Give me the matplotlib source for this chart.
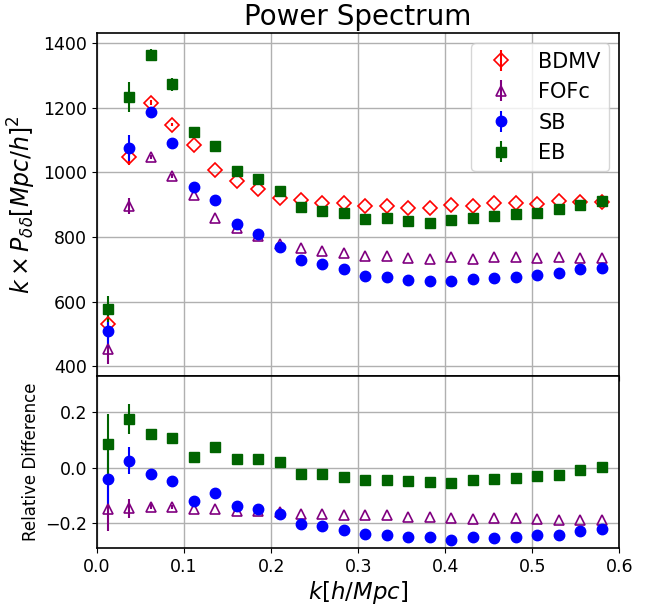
import matplotlib
matplotlib.use("Agg")
import matplotlib.pyplot as plt

k = [0.0123, 0.0370, 0.0617, 0.0863, 0.1110, 0.1357, 0.1603, 0.1850,
     0.2097, 0.2343, 0.2590, 0.2837, 0.3083, 0.3330, 0.3577, 0.3823,
     0.4070, 0.4317, 0.4563, 0.4810, 0.5057, 0.5303, 0.5550, 0.5797]

p_bdmv = [532, 1048, 1216, 1148, 1084, 1007, 974, 949, 920, 914, 905, 905,
          896, 897, 890, 890, 900, 897, 904, 905, 902, 912, 908, 908]
e_bdmv = [25, 25, 8, 6, 0, 0, 0, 0, 0, 0, 0, 0, 0, 0, 0, 0, 0, 0, 0, 0, 0, 0, 0, 0]

p_fofc = [453, 897, 1048, 989, 929, 858, 828, 804, 778, 766, 756, 751,
          741, 742, 734, 733, 738, 731, 739, 739, 734, 739, 735, 735]
e_fofc = [45, 25, 6, 5, 0, 0, 0, 0, 0, 0, 0, 0, 0, 0, 0, 0, 0, 0, 0, 0, 0, 0, 0, 0]

p_sb = [510, 1076, 1188, 1092, 956, 916, 840, 808, 770, 729, 715, 700,
        679, 677, 666, 664, 663, 670, 674, 677, 683, 690, 700, 705]
e_sb = [50, 40, 10, 8, 0, 0, 0, 0, 0, 0, 0, 0, 0, 0, 0, 0, 0, 0, 0, 0, 0, 0, 0, 0]

p_eb = [576, 1233, 1364, 1272, 1125, 1082, 1005, 979, 943, 894, 882, 874,
        855, 859, 848, 844, 852, 858, 865, 871, 875, 886, 900, 910]
e_eb = [40, 45, 18, 20, 0, 0, 0, 0, 0, 0, 0, 0, 0, 0, 0, 0, 0, 0, 0, 0, 0, 0, 0, 0]

r_fofc = [-0.148, -0.147, -0.141, -0.142, -0.148, -0.150, -0.156, -0.156,
          -0.160, -0.166, -0.167, -0.171, -0.172, -0.172, -0.178, -0.178,
          -0.181, -0.185, -0.184, -0.184, -0.186, -0.189, -0.190, -0.190]
re_fofc = [0.08, 0.035, 0.008, 0.006, 0, 0, 0, 0, 0, 0, 0, 0,
           0, 0, 0, 0, 0, 0, 0, 0, 0, 0, 0, 0]

r_sb = [-0.040, 0.026, -0.022, -0.048, -0.119, -0.090, -0.139, -0.150,
        -0.168, -0.205, -0.210, -0.225, -0.241, -0.245, -0.251, -0.252,
        -0.261, -0.252, -0.253, -0.251, -0.243, -0.243, -0.228, -0.223]
re_sb = [0.095, 0.05, 0.015, 0.01, 0, 0, 0, 0, 0, 0, 0, 0,
         0, 0, 0, 0, 0, 0, 0, 0, 0, 0, 0, 0]

r_eb = [0.086, 0.177, 0.122, 0.106, 0.038, 0.074, 0.030, 0.030,
        0.019, -0.024, -0.023, -0.034, -0.046, -0.043, -0.048, -0.052,
        -0.054, -0.046, -0.042, -0.037, -0.030, -0.028, -0.008, 0.002]
re_eb = [0.11, 0.055, 0.02, 0.02, 0, 0, 0, 0, 0, 0, 0, 0,
         0, 0, 0, 0, 0, 0, 0, 0, 0, 0, 0, 0]

fig = plt.figure(figsize=(6.56, 6.06), dpi=100)
gs = fig.add_gridspec(2, 1, height_ratios=[2, 1], hspace=0,
                      left=0.148, right=0.944, top=0.9455, bottom=0.0957)
ax1 = fig.add_subplot(gs[0])
ax2 = fig.add_subplot(gs[1], sharex=ax1)

ms = 7.5
ax1.errorbar(k, p_bdmv, yerr=e_bdmv, fmt='D', color='red', mfc='none', ms=ms, mew=1.2, label='BDMV', zorder=3)
ax1.errorbar(k, p_fofc, yerr=e_fofc, fmt='^', color='purple', mfc='none', ms=ms, mew=1.2, label='FOFc', zorder=3)
ax1.errorbar(k, p_sb, yerr=e_sb, fmt='o', color='blue', ms=ms, label='SB', zorder=3)
ax1.errorbar(k, p_eb, yerr=e_eb, fmt='s', color='darkgreen', ms=ms, label='EB', zorder=3)

ax2.errorbar(k, r_fofc, yerr=re_fofc, fmt='^', color='purple', mfc='none', ms=ms, mew=1.2, zorder=3)
ax2.errorbar(k, r_sb, yerr=re_sb, fmt='o', color='blue', ms=ms, zorder=3)
ax2.errorbar(k, r_eb, yerr=re_eb, fmt='s', color='darkgreen', ms=ms, zorder=3)

ax1.set_xlim(0, 0.6)
ax1.set_ylim(369, 1431)
ax2.set_ylim(-0.291, 0.331)
ax1.set_yticks([400, 600, 800, 1000, 1200, 1400])
ax2.set_yticks([-0.2, 0.0, 0.2])
ax2.set_xticks([0.0, 0.1, 0.2, 0.3, 0.4, 0.5, 0.6])

for ax in (ax1, ax2):
    ax.grid(True, color='#b0b0b0', linewidth=1)
    ax.set_axisbelow(True)
    ax.tick_params(labelsize=12.5)
    for s in ax.spines.values():
        s.set_linewidth(1.2)
plt.setp(ax1.get_xticklabels(), visible=False)

ax1.set_title('Power Spectrum', fontsize=20)
ax1.set_ylabel(r'$k \times P_{\delta\delta}[Mpc/h]^2$', fontsize=17)
ax2.set_ylabel('Relative Difference', fontsize=12)
ax2.set_xlabel(r'$k[h/Mpc]$', fontsize=16.5, labelpad=2)
ax1.legend(loc='upper right', fontsize=15)

fig.savefig('out.png', dpi=100)
